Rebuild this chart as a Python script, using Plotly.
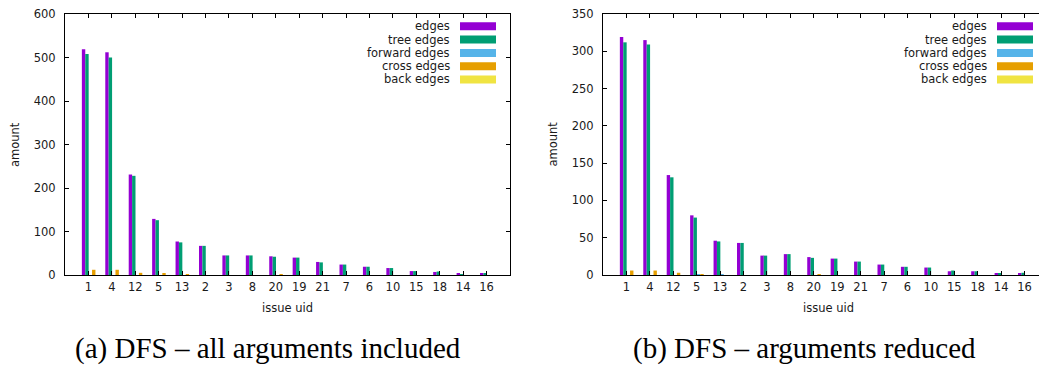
import plotly.graph_objects as go

W, H = 1039, 365

categories = ['1', '4', '12', '5', '13', '2', '3', '8', '20', '19', '21', '7', '6', '10', '15', '18', '14', '16']
series_names = ['edges', 'tree edges', 'forward edges', 'cross edges', 'back edges']
series_colors = ['#9400d3', '#009e73', '#56b4e9', '#e69f00', '#f0e442']

a_edges = [519, 512, 231, 129, 77, 67, 45, 45, 43, 40, 30, 24, 19, 16, 9, 7, 3, 3]
a_tree = [508, 500, 228, 126, 75, 67, 45, 45, 42, 40, 29, 24, 19, 16, 9, 8, 2, 4]
a_forward = [0, 0, 0, 0, 0, 0, 0, 0, 0, 0, 0, 0, 0, 0, 0, 0, 0, 0]
a_cross = [12, 12, 5, 4, 1, 0, 0, 0, 1, 0, 0, 0, 0, 0, 0, 0, 0, 0]
a_back = [0, 0, 0, 0, 0, 0, 0, 0, 0, 0, 0, 0, 0, 0, 0, 0, 0, 0]

b_edges = [319, 315, 134, 80, 46, 43, 26, 28, 24, 22, 18, 14, 11, 10, 5, 5, 2, 2]
b_tree = [312, 309, 131, 77, 45, 43, 26, 28, 23, 22, 18, 14, 11, 10, 6, 5, 2, 3]
b_forward = [0, 0, 0, 1, 1, 0, 0, 0, 0, 0, 0, 0, 0, 0, 0, 0, 0, 0]
b_cross = [6, 6, 3, 1, 0, 0, 0, 0, 1, 0, 0, 0, 0, 0, 0, 0, 0, 0]
b_back = [0, 0, 0, 0, 0, 0, 0, 0, 0, 0, 0, 0, 0, 0, 0, 0, 0, 0]

captions = ['(a) DFS – all arguments included', '(b) DFS – arguments reduced']
y_title = 'amount'
x_title = 'issue uid'

SANS = 'DejaVu Sans'
SERIF = 'Liberation Serif'
FS = 11.5


def px(x):
    return x / W


def py(y):
    return 1 - y / H


fig = go.Figure()
xs = list(range(len(categories)))
bw = 0.145
off0 = -0.28

panels = [
    dict(data=[a_edges, a_tree, a_forward, a_cross, a_back], xa='x', ya='y'),
    dict(data=[b_edges, b_tree, b_forward, b_cross, b_back], xa='x2', ya='y2'),
]
for p in panels:
    for j, (vals, name, col) in enumerate(zip(p['data'], series_names, series_colors)):
        fig.add_trace(go.Bar(
            x=xs, y=vals, name=name, xaxis=p['xa'], yaxis=p['ya'],
            width=bw, offset=off0 + j * bw,
            marker=dict(color=col, line=dict(width=0)),
            showlegend=False,
        ))

L1, R1 = 65, 510
L2 = 603
TOP, BOT = 14, 275
unit = (R1 - L1) / 19.0
right_range_end = -1 + (W - L2) / unit

axis_common = dict(
    showline=True, linecolor='black', linewidth=1,
    ticks='inside', ticklen=4, tickcolor='black', tickwidth=1,
    showgrid=False, zeroline=False, automargin=False,
    tickfont=dict(family=SANS, size=FS, color='#1a1a1a'),
)

fig.update_layout(
    width=W, height=H,
    margin=dict(l=0, r=0, t=0, b=0, autoexpand=False),
    paper_bgcolor='white', plot_bgcolor='white',
    barmode='overlay',
    showlegend=False,
    xaxis=dict(domain=[px(L1), px(R1)], range=[-1, 18], tickvals=xs, ticktext=categories,
               mirror='allticks', anchor='y', ticklabelstandoff=1, **axis_common),
    yaxis=dict(domain=[py(BOT), py(TOP)], range=[0, 600], dtick=100,
               mirror='allticks', anchor='x', ticklabelstandoff=6, **axis_common),
    xaxis2=dict(domain=[px(L2), 1.0], range=[-1, right_range_end], tickvals=xs, ticktext=categories,
                mirror='allticks', anchor='y2', ticklabelstandoff=1, **axis_common),
    yaxis2=dict(domain=[py(BOT), py(TOP)], range=[0, 350], dtick=50,
                mirror=False, anchor='x2', ticklabelstandoff=6, **axis_common),
)

annotations = []
shapes = []
for (cx_title, ycx, capx, cap) in [(287.5, 14.5, 267.5, captions[0]),
                                   (828, 552, 804, captions[1])]:
    annotations.append(dict(x=px(cx_title), y=py(307.5), xref='paper', yref='paper',
                            text=x_title, showarrow=False, xanchor='center', yanchor='middle',
                            font=dict(family=SANS, size=FS, color='#1a1a1a')))
    annotations.append(dict(x=px(ycx), y=py(144.5), xref='paper', yref='paper',
                            text=y_title, showarrow=False, textangle=-90,
                            xanchor='center', yanchor='middle',
                            font=dict(family=SANS, size=FS, color='#1a1a1a')))
    annotations.append(dict(x=px(capx), y=py(348.5), xref='paper', yref='paper',
                            text=cap, showarrow=False, xanchor='center', yanchor='middle',
                            font=dict(family=SERIF, size=29, color='black')))

for (text_right, sw_l, sw_r) in [(452, 460, 496), (989, 997, 1033)]:
    for k, (name, col) in enumerate(zip(series_names, series_colors)):
        yc = 26.3 + 13.3 * k
        annotations.append(dict(x=px(text_right), y=py(yc), xref='paper', yref='paper',
                                text=name, showarrow=False, xanchor='right', yanchor='middle',
                                font=dict(family=SANS, size=FS, color='#1a1a1a')))
        shapes.append(dict(type='rect', xref='paper', yref='paper',
                           x0=px(sw_l), x1=px(sw_r), y0=py(yc + 4), y1=py(yc - 4),
                           fillcolor=col, line=dict(width=0)))

fig.update_layout(annotations=annotations, shapes=shapes)
fig.write_html('out.html')
